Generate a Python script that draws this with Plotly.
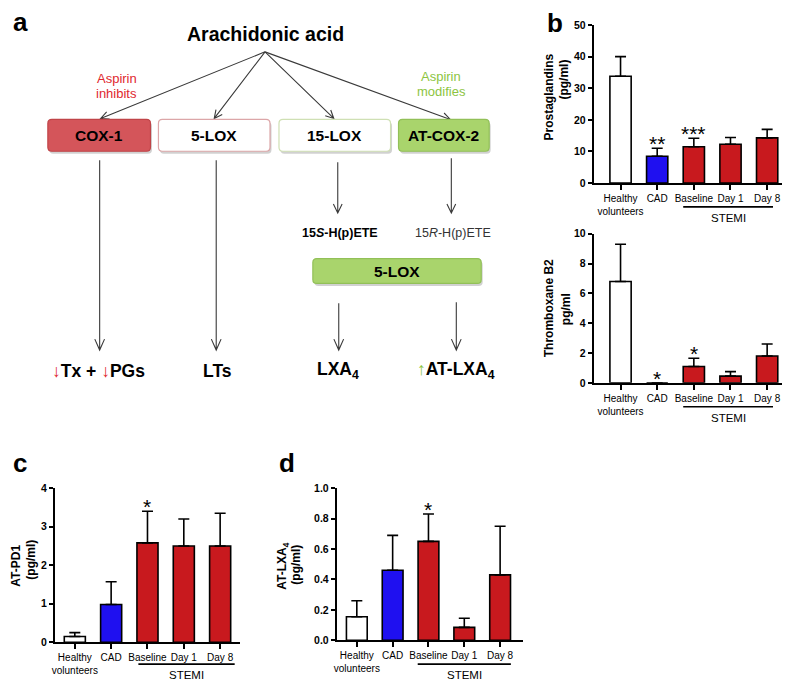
import math
import plotly.graph_objects as go

W, H = 790, 680
FONT = "Arial, Liberation Sans, sans-serif"

# ---------------- data ----------------
groups = ["Healthy<br>volunteers", "CAD", "Baseline", "Day 1", "Day 8"]
bar_colors = ["#ffffff", "#1f10f0", "#c8191e", "#c8191e", "#c8191e"]

pg_mean = [33.8, 8.5, 11.5, 12.3, 14.3]
pg_upper = [40.0, 11.0, 14.2, 14.4, 17.0]
pg_stars = ["", "**", "***", "", ""]

tx_mean = [6.8, 0.0, 1.1, 0.45, 1.8]
tx_upper = [9.3, 0.0, 1.65, 0.75, 2.6]
tx_stars = ["", "*", "*", "", ""]

pd1_mean = [0.15, 0.98, 2.58, 2.5, 2.5]
pd1_upper = [0.25, 1.57, 3.4, 3.2, 3.35]
pd1_stars = ["", "", "*", "", ""]

lxa_mean = [0.155, 0.46, 0.65, 0.085, 0.43]
lxa_upper = [0.26, 0.69, 0.83, 0.145, 0.75]
lxa_stars = ["", "", "*", "", ""]

pg_ticks = [0, 10, 20, 30, 40, 50]
tx_ticks = [0, 2, 4, 6, 8, 10]
pd1_ticks = [0, 1, 2, 3, 4]
lxa_ticks = [0.0, 0.2, 0.4, 0.6, 0.8, 1.0]

# page placement (body margin) compensation: target-picture pixel -> paper fraction
OFF = 8
VS = 688 / 680


def px(x):
    return (x - OFF) / W


def py(y):
    return 1 - (y * VS - OFF) / H


fig = go.Figure()
shapes = []
annos = []

# ---------------- bar panels ----------------
panels = [
    ("", pg_mean, pg_upper, pg_stars, pg_ticks, [0, 50], (593, 788), (19, 178), [-0.73, 4.57], None),
    ("2", tx_mean, tx_upper, tx_stars, tx_ticks, [0, 10], (593, 788), (229, 379), [-0.73, 4.57], None),
    ("3", pd1_mean, pd1_upper, pd1_stars, pd1_ticks, [0, 4], (52, 238), (485, 640), [-0.55, 4.55], None),
    ("4", lxa_mean, lxa_upper, lxa_stars, lxa_ticks, [0, 1], (335, 522), (485, 638), [-0.56, 4.64], ".1f"),
]

xs = list(range(len(groups)))
for suf, mean, upper, stars, ticks, yr, xd, yd, xr, fmt in panels:
    xa = "x" + suf
    ya = "y" + suf
    fig.add_trace(go.Bar(
        x=xs, y=mean, width=0.58,
        marker=dict(color=bar_colors, line=dict(color="black", width=1.6)),
        error_y=dict(type="data", symmetric=False,
                     array=[u - m for u, m in zip(upper, mean)],
                     arrayminus=[0] * len(mean),
                     color="black", thickness=1.6, width=5.5),
        xaxis=xa, yaxis=ya, showlegend=False, hoverinfo="skip",
    ))
    fig.update_layout(**{
        "xaxis" + suf: dict(domain=[px(xd[0]), px(xd[1])], range=xr, anchor=ya,
                            tickvals=xs, ticktext=groups, showline=True, linewidth=2,
                            linecolor="black", ticks="outside", ticklen=5, tickwidth=2,
                            tickcolor="black", showgrid=False, zeroline=False,
                            tickfont=dict(family=FONT, size=10, color="black")),
        "yaxis" + suf: dict(domain=[py(yd[1]), py(yd[0])], range=yr, anchor=xa,
                            tickvals=ticks, tickformat=fmt, showline=True, linewidth=2,
                            linecolor="black", ticks="outside", ticklen=4, tickwidth=2,
                            tickcolor="black", showgrid=False, zeroline=False,
                            tickfont=dict(family=FONT, size=10.5, color="black", weight="bold")),
    })
    for i, s in enumerate(stars):
        if s:
            annos.append(dict(x=xs[i], y=upper[i], xref=xa, yref=ya, text=s,
                              showarrow=False, yanchor="bottom", yshift=-9,
                              font=dict(family=FONT, size=21, color="black")))

# STEMI brackets: (xref, x0, x1, line y px, text x px, text y px)
stemi = [
    ("x", 1.71, 4.16, 202, 728, 213),
    ("x2", 1.71, 4.16, 403, 728, 414),
    ("x3", 1.75, 4.4, 662, 184, 673),
    ("x4", 1.7, 4.3, 662, 463, 673),
]
for xr_, a0, a1, ly, tx, ty in stemi:
    shapes.append(dict(type="line", xref=xr_, yref="paper", x0=a0, x1=a1,
                       y0=py(ly), y1=py(ly), line=dict(color="black", width=1.6)))
    annos.append(dict(x=px(tx), y=py(ty), xref="paper", yref="paper", text="STEMI",
                      showarrow=False, xanchor="center", yanchor="middle",
                      font=dict(family=FONT, size=11.5, color="black")))


def txt(x, y, text, size, color="black", angle=0, xanchor="center"):
    annos.append(dict(x=px(x), y=py(y), xref="paper", yref="paper", text=text,
                      showarrow=False, textangle=angle, xanchor=xanchor, yanchor="middle",
                      font=dict(family=FONT, size=size, color=color)))


# y-axis titles
txt(548, 91, "<b>Prostaglandins</b>", 12, angle=-90)
txt(563, 74, "<b>(pg/ml)</b>", 12, angle=-90)
txt(548, 304, "<b>Thromboxane B2</b>", 12, angle=-90)
txt(565, 305, "<b>pg/ml</b>", 12, angle=-90)
txt(13, 563, "<b>AT-PD1</b>", 12, angle=-90)
txt(28, 557, "<b>(pg/ml)</b>", 12, angle=-90)
txt(281, 563, "<b>AT-LXA<sub>4</sub></b>", 12, angle=-90)
txt(294, 562, "<b>(pg/ml)</b>", 12, angle=-90)

# panel letters
txt(8, 16, "<b>a</b>", 26, xanchor="left")
txt(554, 17, "<b>b</b>", 26)
txt(8, 460, "<b>c</b>", 26, xanchor="left")
txt(285, 460, "<b>d</b>", 26)

# ---------------- panel a diagram ----------------
ARROW = "#3a3a3a"


def arrow(x0, y0, x1, y1, head=9, ang=26, width=1.1):
    th = math.atan2(y1 - y0, x1 - x0)
    pts = []
    for s in (1, -1):
        a = th + math.pi + s * math.radians(ang)
        pts.append((x1 + head * math.cos(a), y1 + head * math.sin(a)))
    path = (f"M {px(x0)},{py(y0)} L {px(x1)},{py(y1)} "
            f"M {px(pts[0][0])},{py(pts[0][1])} L {px(x1)},{py(y1)} L {px(pts[1][0])},{py(pts[1][1])}")
    shapes.append(dict(type="path", xref="paper", yref="paper", path=path,
                       line=dict(color=ARROW, width=width)))


def rrect_path(x0, y0, x1, y1, r=4):
    pts = [
        f"M {px(x0 + r)},{py(y0)}",
        f"L {px(x1 - r)},{py(y0)}",
        f"Q {px(x1)},{py(y0)} {px(x1)},{py(y0 + r)}",
        f"L {px(x1)},{py(y1 - r)}",
        f"Q {px(x1)},{py(y1)} {px(x1 - r)},{py(y1)}",
        f"L {px(x0 + r)},{py(y1)}",
        f"Q {px(x0)},{py(y1)} {px(x0)},{py(y1 - r)}",
        f"L {px(x0)},{py(y0 + r)}",
        f"Q {px(x0)},{py(y0)} {px(x0 + r)},{py(y0)}",
        "Z",
    ]
    return " ".join(pts)


def box(x0, y0, x1, y1, fill, border, label, size=15.5):
    shapes.append(dict(type="path", xref="paper", yref="paper",
                       path=rrect_path(x0 + 1.5, y0 + 2.5, x1 + 1.5, y1 + 2.5),
                       fillcolor="rgba(0,0,0,0.18)", line=dict(width=0)))
    shapes.append(dict(type="path", xref="paper", yref="paper",
                       path=rrect_path(x0, y0, x1, y1), fillcolor=fill,
                       line=dict(color=border, width=1.2)))
    txt((x0 + x1) / 2, (y0 + y1) / 2, f"<b>{label}</b>", size)


txt(263, 28, "<b>Arachidonic acid</b>", 19.5)
txt(114, 73, "Aspirin", 13, color="#e0282e")
txt(114, 88, "inhibits", 13, color="#e0282e")
txt(440, 71, "Aspirin", 13, color="#8cc43f")
txt(440, 86, "modifies", 13, color="#8cc43f")

arrow(263, 46, 98, 113)
arrow(263, 46, 212, 113)
arrow(263, 46, 332, 113)
arrow(263, 46, 449, 114)

box(45, 114, 148, 146, "#d4555a", "#c04448", "COX-1")
box(156, 114, 268, 146, "#ffffff", "#dca6a8", "5-LOX")
box(277, 114, 389, 146, "#ffffff", "#cfe0b4", "15-LOX")
box(397, 114, 488, 146, "#a9d46c", "#92c058", "AT-COX-2")

arrow(97, 155, 97, 346, head=12, ang=24)
arrow(214, 155, 214, 346, head=12, ang=24)
arrow(336, 157, 336, 208, head=10, ang=26)
arrow(450, 153, 450, 208, head=10, ang=26)

txt(338, 228, "<b>15<i>S</i>-H(p)ETE</b>", 12.5)
txt(452, 228, "15<i>R</i>-H(p)ETE", 12.5, color="#333333")

box(311, 254, 480, 279, "#a9d46c", "#92c058", "5-LOX")

arrow(337, 299, 337, 346, head=12, ang=24)
arrow(455, 298, 455, 346, head=12, ang=24)

txt(96, 367, "<span style='color:#e0282e'>↓</span><b>Tx + </b><span style='color:#e0282e'>↓</span><b>PGs</b>", 17.5)
txt(215, 367, "<b>LTs</b>", 17.5)
txt(336, 367, "<b>LXA<sub>4</sub></b>", 17.5)
txt(455, 367, "<span style='color:#8cc43f'>↑</span><b>AT-LXA<sub>4</sub></b>", 17.5)

fig.update_layout(
    width=W, height=H, margin=dict(l=0, r=0, t=0, b=0),
    paper_bgcolor="white", plot_bgcolor="white",
    shapes=shapes, annotations=annos, showlegend=False,
    font=dict(family=FONT, color="black"),
)

fig.write_html("out.html")
